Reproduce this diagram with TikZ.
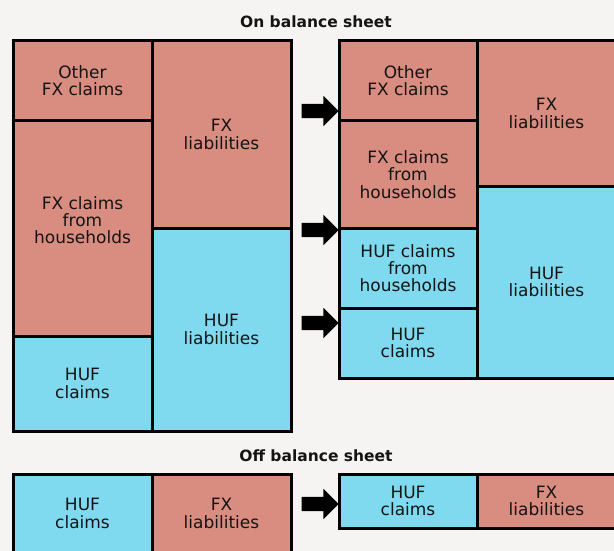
\documentclass[tikz,border=0pt]{standalone}
\usepackage{fontspec}
\setmainfont{DejaVu Sans}
\usetikzlibrary{shapes.arrows}
\definecolor{fxred}{RGB}{217,140,128}
\definecolor{hufblue}{RGB}{127,218,239}
\definecolor{paper}{RGB}{245,244,242}

\begin{document}
\begin{tikzpicture}[x=1pt,y=-1pt]
\tikzset{every node/.style={font=\fontsize{17}{17.2}\selectfont, text=black!92, align=center}}
\tikzset{fx/.style={draw, line width=3pt, fill=fxred, inner sep=0pt}}
\tikzset{huf/.style={draw, line width=3pt, fill=hufblue, inner sep=0pt}}
\tikzset{bigarrow/.style={single arrow, fill=black, minimum height=37pt, inner sep=7pt, single arrow head extend=8pt}}
\tikzset{heading/.style={font=\bfseries\fontsize{15.5}{18}\selectfont}}

\fill[paper] (0,0) rectangle (614,551);
\clip (0,0) rectangle (614,551);

% headings
\node[heading] (on) at (316,22) {On balance sheet};
\node[heading] (off) at (316,456) {Off balance sheet};

% on balance sheet, before
\node[fx, minimum width=139pt, minimum height=80pt] (oth) at (82.5,81) {Other\\FX claims};
\node[fx, minimum width=139pt, minimum height=215pt] (fxh) at (82.5,228.5) {FX claims\\from\\households\\\mbox{}};
\node[huf, minimum width=139pt, minimum height=95pt] (hufc) at (82.5,383.5) {HUF\\claims};
\node[fx, minimum width=139pt, minimum height=187pt] (fxl) at (221.5,134.5) {FX\\liabilities};
\node[huf, minimum width=139pt, minimum height=203pt] (hufl) at (221.5,329.5) {HUF\\liabilities};

% on balance sheet, after
\node[fx, minimum width=138pt, minimum height=80pt] (othb) at (408,81) {Other\\FX claims};
\node[fx, minimum width=138pt, minimum height=107pt] (fxhb) at (408,174.5) {FX claims\\from\\households};
\node[huf, minimum width=138pt, minimum height=80pt] (hufhb) at (408,268) {HUF claims\\from\\households};
\node[huf, minimum width=138pt, minimum height=70pt] (hufcb) at (408,343) {HUF\\claims};
\node[fx, minimum width=139pt, minimum height=145pt] (fxlb) at (546.5,113.5) {FX\\liabilities};
\node[huf, minimum width=139pt, minimum height=192pt] (huflb) at (546.5,282) {HUF\\liabilities};

% off balance sheet
\node[huf, minimum width=139pt, minimum height=79pt] (offc) at (82.5,513.5) {HUF\\claims};
\node[fx, minimum width=139pt, minimum height=79pt] (offl) at (221.5,513.5) {FX\\liabilities};
\node[huf, minimum width=138pt, minimum height=54pt] (offcb) at (408,501) {HUF\\claims};
\node[fx, minimum width=139pt, minimum height=54pt] (offlb) at (546.5,501) {FX\\liabilities};

% arrows
\node[bigarrow] (a1) at (316.5,111) {};
\node[bigarrow] (a2) at (316.5,230) {};
\node[bigarrow] (a3) at (316.5,323) {};
\node[bigarrow] (a4) at (316.5,504) {};

\end{tikzpicture}
\end{document}
